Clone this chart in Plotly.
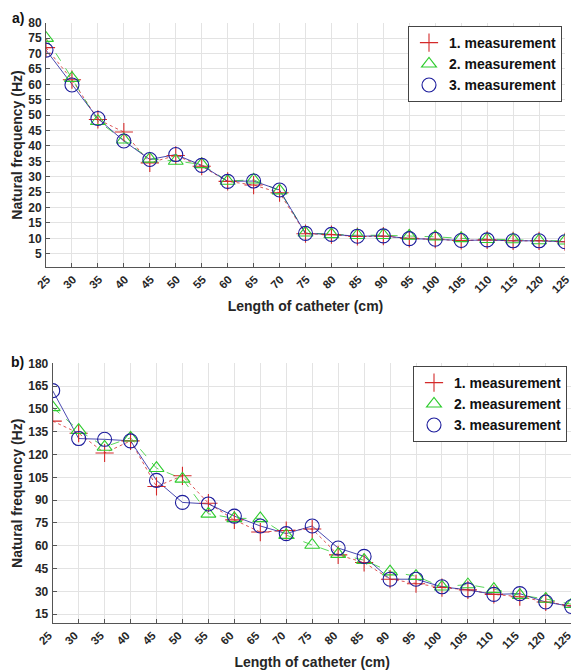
import plotly.graph_objects as go

# ---------------- data ----------------
length_cm = [25, 30, 35, 40, 45, 50, 55, 60, 65, 70, 75, 80, 85, 90, 95, 100, 105, 110, 115, 120, 125]

a_meas1 = [71.9, 61.5, 48.6, 44.5, 34.5, 36.9, 33.4, 28.5, 27.3, 24.8, 11.5, 11.2, 10.6, 10.7, 10.0, 9.7, 9.3, 9.5, 9.2, 9.2, 8.9]
a_meas2 = [75.0, 62.0, 48.0, 42.0, 35.8, 35.1, 34.0, 28.6, 29.0, 25.5, 11.8, 11.3, 11.0, 11.0, 10.8, 10.5, 10.0, 9.7, 9.6, 9.3, 9.2]
a_meas3 = [71.1, 59.8, 48.9, 41.6, 35.6, 37.2, 33.7, 28.5, 28.6, 25.7, 11.6, 11.3, 10.7, 10.8, 9.9, 9.7, 9.3, 9.5, 9.2, 9.2, 8.9]

b_meas1 = [142, 134, 121, 129, 99, 106, 88, 77, 69, 70, 71, 54, 49, 38, 35, 32.5, 31, 28, 26.5, 23, 20.5]
b_meas2 = [151, 136, 125, 131, 111, 104, 81, 78, 78, 67, 60.5, 54.5, 50.5, 43, 40, 33, 34.5, 31.5, 27.5, 25, 21.5]
b_meas3 = [162, 130.5, 130, 129, 103, 88.5, 87.5, 79.5, 73, 68, 73, 58.5, 53, 38, 38, 33, 31, 28, 28.5, 23, 20]

series_names = ["1. measurement", "2. measurement", "3. measurement"]
a_ticks_y = list(range(5, 81, 5))
b_ticks_y = list(range(15, 181, 15))
x_ticks = length_cm

# ---------------- styling ----------------
# page body has an 8px default margin: the figure is drawn 8px right/down
OFF = 8
W, H = 579 - OFF, 671 - OFF
colors = ["#d42a2a", "#2fcc2f", "#1c1c9c"]
symbols = ["cross-thin-open", "triangle-up-open", "circle-open"]
msizes = [13, 13, 14]
dashes = ["dot", "dash", "solid"]
FONT = "Liberation Sans, Arial, sans-serif"
TXT = "#262626"

fig = go.Figure()

def add_panel(ys, xa, ya, legend):
    for i, y in enumerate(ys):
        fig.add_trace(go.Scatter(
            x=length_cm, y=y, mode="lines", xaxis=xa, yaxis=ya,
            line=dict(color=colors[i], width=0.8, dash=dashes[i]),
            showlegend=False, hoverinfo="skip"))
    for i, y in enumerate(ys):
        fig.add_trace(go.Scatter(
            x=length_cm, y=y, mode="markers", xaxis=xa, yaxis=ya,
            name=series_names[i], legend=legend,
            marker=dict(symbol=symbols[i], size=msizes[i],
                        color=colors[i], line=dict(color=colors[i], width=1.1))))

add_panel([a_meas1, a_meas2, a_meas3], "x", "y", "legend")
add_panel([b_meas1, b_meas2, b_meas3], "x2", "y2", "legend2")

def px_x(p):
    return (p - OFF) / W

def px_y(p):
    return 1 - (p - OFF) / H

common_x = dict(
    tickmode="array", tickvals=x_ticks, ticktext=[str(v) for v in x_ticks],
    tickangle=-45, showgrid=True, gridcolor="#e3e3e3", gridwidth=1,
    showline=True, linecolor="#555555", linewidth=1,
    ticks="inside", ticklen=4, tickcolor="#555555",
    ticklabelstandoff=0, automargin=False,
    tickfont=dict(family=FONT, size=11.5, color=TXT, weight="bold"),
    zeroline=False, range=[25, 125],
    title=dict(text="Length of catheter (cm)",
               font=dict(family=FONT, size=14, color=TXT, weight="bold"), standoff=6),
)
common_y = dict(
    showgrid=True, gridcolor="#e3e3e3", gridwidth=1,
    showline=True, linecolor="#555555", linewidth=1,
    ticks="inside", ticklen=4, tickcolor="#555555",
    ticklabelstandoff=1, automargin=False,
    tickfont=dict(family=FONT, size=12, color=TXT, weight="bold"),
    zeroline=False,
    title=dict(text="Natural frequency (Hz)",
               font=dict(family=FONT, size=14, color=TXT, weight="bold"), standoff=2),
)

legend_common = dict(
    bgcolor="white", bordercolor="#444444", borderwidth=1,
    font=dict(family=FONT, size=14, color="#111111", weight="bold"),
    tracegroupgap=0, itemwidth=30, xanchor="right", yanchor="top",
    itemclick=False, itemdoubleclick=False,
)

fig.update_layout(
    width=W, height=H,
    paper_bgcolor="white", plot_bgcolor="white",
    margin=dict(l=0, r=0, t=0, b=0),
    xaxis=dict(domain=[px_x(46), px_x(565)], anchor="y", ticklabelshift=1, **common_x),
    yaxis=dict(domain=[px_y(267.3), px_y(22.7)], anchor="x",
               range=[0.6, 80], tickmode="array", tickvals=a_ticks_y, **common_y),
    xaxis2=dict(domain=[px_x(52.7), px_x(571.7)], anchor="y2", ticklabelshift=-4, **common_x),
    yaxis2=dict(domain=[px_y(623.3), px_y(363.3)], anchor="x2",
                range=[9, 180], tickmode="array", tickvals=b_ticks_y, **common_y),
    legend=dict(x=px_x(562), y=px_y(26), **legend_common),
    legend2=dict(x=px_x(567), y=px_y(366), **legend_common),
    annotations=[
        dict(text="a)", x=px_x(10), y=px_y(18), xref="paper", yref="paper",
             xanchor="left", yanchor="middle", showarrow=False,
             font=dict(family=FONT, size=14, color="#111111", weight="bold")),
        dict(text="b)", x=px_x(9), y=px_y(362), xref="paper", yref="paper",
             xanchor="left", yanchor="middle", showarrow=False,
             font=dict(family=FONT, size=14, color="#111111", weight="bold")),
    ],
)

fig.write_html("out.html")
